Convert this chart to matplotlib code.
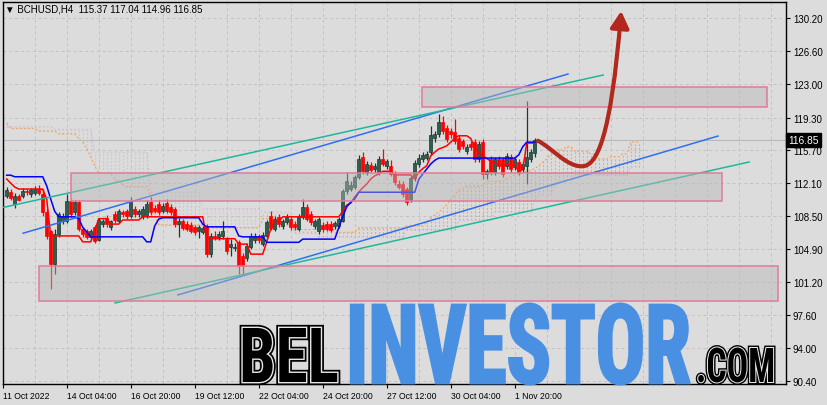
import os
import numpy as np
import matplotlib
matplotlib.use('Agg')
import matplotlib.pyplot as plt
import matplotlib.text as mtext
from matplotlib import font_manager as fm
from matplotlib.font_manager import FontProperties
from matplotlib.textpath import TextPath
from matplotlib.patches import Rectangle, FancyArrowPatch
from matplotlib.path import Path
from matplotlib.transforms import Affine2D
from matplotlib import patheffects

plt.rcParams['font.family'] = ['Liberation Sans', 'DejaVu Sans']

# BCHUSD H4 candles (bar 0 = 11 Oct 16:00)
opens = [110.65, 111.09, 109.80, 110.65, 110.65, 111.20, 110.90, 111.00, 111.50, 110.90,
         108.90, 106.80, 103.20, 106.50, 107.95, 107.95, 110.10, 108.90, 110.00, 107.05,
         106.80, 106.20, 107.30, 105.90, 107.60, 108.30, 107.30, 108.70, 107.95, 108.90,
         109.00, 108.50, 109.30, 108.70, 108.50, 108.50, 110.00, 109.40, 109.80, 109.00,
         109.90, 109.50, 109.25, 107.60, 107.95, 107.60, 107.50, 107.30, 106.85, 106.70,
         107.30, 104.30, 106.30, 106.20, 106.30, 105.95, 105.10, 105.00, 105.60, 104.10,
         103.90, 105.10, 105.80, 106.30, 105.40, 106.30, 108.50, 107.05, 108.40, 107.40,
         107.80, 108.15, 107.60, 107.05, 108.40, 109.50, 108.70, 107.40, 106.85, 107.50,
         107.60, 107.60, 107.40, 107.40, 107.95, 111.20, 111.50, 111.70, 112.80, 114.95,
         113.30, 114.10, 113.60, 113.30, 114.75, 114.00, 114.00, 113.10, 112.00, 112.00,
         111.45, 110.30, 112.70, 114.20, 114.70, 114.90, 115.50, 117.10, 117.50, 118.80,
         118.20, 117.80, 117.70, 117.10, 116.70, 115.60, 116.40, 116.60, 114.75, 116.60,
         113.10, 114.75, 113.30, 114.75, 114.75, 114.00, 114.95, 113.85, 114.40, 113.65,
         114.00, 114.75, 115.37]
highs = [111.64, 111.40, 111.00, 110.90, 111.60, 111.50, 111.60, 111.80, 111.90, 111.50,
         109.30, 107.00, 107.05, 108.90, 108.80, 110.90, 110.40, 110.30, 110.20, 107.30,
         107.10, 107.10, 107.50, 108.30, 108.20, 108.60, 108.10, 109.00, 109.30, 109.20,
         109.30, 110.60, 109.60, 109.30, 109.60, 110.20, 110.60, 109.70, 110.30, 109.90,
         110.40, 109.80, 109.50, 108.30, 108.20, 107.90, 107.80, 107.50, 107.50, 107.40,
         107.60, 106.60, 106.80, 106.80, 107.95, 106.20, 105.95, 105.50, 105.80, 104.40,
         105.50, 106.60, 106.60, 106.50, 106.70, 108.00, 109.00, 108.50, 108.70, 108.20,
         108.70, 108.40, 107.90, 108.70, 110.35, 109.80, 109.00, 108.20, 108.40, 107.80,
         107.90, 107.90, 107.90, 108.40, 111.40, 113.30, 112.30, 113.00, 115.20, 115.50,
         114.50, 114.40, 114.30, 115.10, 115.85, 114.80, 114.60, 113.40, 112.40, 112.30,
         111.70, 112.90, 114.60, 115.30, 115.50, 115.60, 118.40, 117.80, 119.70, 119.50,
         118.50, 118.10, 119.15, 117.40, 117.00, 116.40, 116.70, 116.90, 116.70, 116.90,
         113.70, 115.10, 115.00, 115.10, 115.00, 115.40, 115.30, 115.00, 114.70, 114.50,
         121.10, 115.80, 117.04]
lows = [110.43, 110.20, 109.40, 110.10, 110.50, 110.80, 110.60, 110.80, 110.80, 108.50,
        106.00, 100.45, 102.10, 106.20, 107.60, 107.70, 108.40, 108.60, 106.80, 106.20,
        106.00, 105.90, 105.50, 105.70, 107.30, 107.30, 107.00, 107.70, 107.70, 108.40,
        108.20, 108.30, 108.40, 108.40, 108.20, 108.30, 108.60, 108.80, 108.60, 108.80,
        108.80, 108.60, 107.30, 106.20, 106.90, 106.80, 106.60, 106.40, 106.10, 106.50,
        104.00, 104.00, 105.80, 105.90, 106.00, 104.30, 104.10, 104.60, 102.10, 102.00,
        103.60, 104.90, 105.50, 105.50, 105.20, 106.00, 106.90, 106.80, 107.30, 107.10,
        107.60, 107.00, 107.00, 106.80, 108.20, 107.90, 107.50, 107.10, 106.50, 106.70,
        106.80, 106.70, 107.10, 107.20, 107.80, 110.90, 111.20, 111.40, 112.50, 113.10,
        113.00, 113.30, 113.30, 113.00, 114.00, 113.70, 112.90, 111.90, 111.40, 110.60,
        109.70, 110.00, 112.30, 113.90, 114.40, 114.60, 115.20, 116.60, 117.20, 117.50,
        116.60, 117.10, 116.40, 115.50, 115.90, 115.30, 115.70, 114.40, 114.40, 112.55,
        112.55, 113.00, 113.00, 113.70, 112.80, 113.70, 113.30, 113.50, 113.00, 113.30,
        112.00, 114.40, 114.96]
closes = [111.38, 110.43, 110.65, 110.30, 111.27, 111.10, 111.30, 111.50, 111.00, 108.90,
          106.30, 103.20, 106.50, 108.70, 108.50, 110.10, 108.70, 110.00, 107.05, 106.50,
          106.20, 106.80, 105.75, 108.00, 107.90, 107.60, 107.90, 108.00, 109.00, 108.70,
          108.50, 110.00, 108.70, 109.00, 109.30, 109.80, 108.90, 109.00, 108.90, 109.60,
          109.00, 108.90, 107.60, 107.95, 107.15, 107.05, 106.85, 106.70, 107.30, 107.15,
          104.30, 106.30, 106.10, 106.50, 106.85, 104.60, 105.40, 105.00, 103.00, 103.00,
          105.20, 106.30, 106.30, 105.80, 106.40, 107.80, 107.20, 108.15, 107.60, 107.95,
          108.40, 107.30, 107.30, 108.50, 109.50, 108.15, 107.80, 107.95, 108.15, 107.05,
          107.05, 107.00, 107.70, 108.15, 111.20, 112.30, 111.90, 112.80, 114.75, 113.40,
          114.20, 113.55, 114.00, 114.75, 114.20, 114.50, 113.10, 112.20, 111.70, 110.90,
          110.00, 112.70, 114.30, 114.90, 115.20, 115.30, 117.40, 117.50, 118.80, 117.80,
          116.95, 117.50, 116.70, 115.85, 116.20, 116.10, 116.05, 114.75, 116.40, 113.10,
          113.40, 113.30, 114.75, 114.00, 113.10, 115.10, 113.65, 114.75, 113.30, 114.20,
          114.95, 115.50, 116.85]

# Ichimoku lines
tenkan = [112.55, 112.10, 111.67, 111.45, 111.45, 111.45, 111.45, 111.45, 111.45, 111.45,
          110.35, 106.30, 106.30, 106.30, 106.30, 106.30, 106.30, 106.30, 106.30, 105.65,
          105.65, 105.65, 106.85, 108.20, 108.20, 108.20, 107.60, 107.60, 107.60, 108.05,
          108.05, 108.05, 108.05, 108.05, 108.40, 108.40, 108.40, 108.40, 108.40, 108.40,
          108.40, 108.40, 108.40, 108.40, 108.40, 108.40, 108.40, 108.40, 108.40, 108.40,
          106.00, 106.00, 106.00, 106.00, 106.00, 106.00, 106.00, 106.00, 105.40, 105.40,
          105.40, 104.30, 104.30, 104.30, 104.30, 105.65, 107.10, 107.90, 107.90, 108.40,
          108.40, 108.40, 108.40, 108.40, 108.40, 108.40, 108.40, 108.40, 108.40, 108.40,
          108.40, 108.40, 108.40, 108.40, 109.00, 109.70, 109.90, 110.60, 111.10, 111.60,
          112.00, 112.55, 112.90, 113.10, 113.40, 113.40, 113.40, 113.00, 113.00, 113.00,
          113.00, 113.00, 112.55, 113.30, 113.70, 114.00, 115.10, 115.50, 115.85, 116.00,
          116.20, 116.60, 117.05, 117.30, 117.30, 117.30, 117.00, 116.00, 115.50, 115.10,
          114.80, 114.50, 114.30, 114.10, 114.10, 114.10, 114.10, 114.10, 113.40, 113.60,
          116.50, 116.50, 116.50]
kijun = [112.97, 112.97, 112.80, 112.80, 112.80, 112.80, 112.80, 112.80, 112.80, 112.80,
         111.80, 110.35, 109.00, 108.40, 108.40, 108.40, 108.40, 108.40, 108.20, 107.25,
         106.75, 106.20, 106.20, 106.20, 106.20, 106.20, 106.20, 106.20, 106.20, 106.20,
         106.20, 106.20, 106.20, 106.20, 106.20, 105.65, 105.65, 107.40, 108.15, 108.30,
         108.30, 108.30, 108.30, 108.30, 108.30, 108.30, 108.30, 108.30, 108.30, 107.60,
         107.30, 107.30, 107.30, 107.30, 107.30, 107.30, 107.30, 107.30, 106.30, 106.20,
         106.20, 106.20, 106.20, 106.20, 106.20, 105.60, 105.60, 105.60, 105.60, 105.60,
         105.60, 105.60, 105.60, 105.60, 105.95, 105.95, 105.95, 105.95, 105.95, 105.95,
         105.95, 105.95, 105.95, 107.20, 108.40, 109.50, 110.00, 110.35, 111.10, 111.10,
         111.10, 111.10, 111.10, 111.10, 111.10, 111.10, 111.10, 111.10, 111.10, 111.10,
         111.10, 111.10, 111.10, 112.50, 113.10, 113.65, 114.20, 114.60, 114.85, 114.85,
         114.85, 114.85, 114.85, 114.85, 114.85, 114.85, 114.85, 114.85, 114.85, 114.85,
         114.85, 114.85, 114.85, 114.85, 114.85, 114.85, 114.85, 114.85, 115.20, 116.10,
         116.60, 116.60, 116.60]
span_a = [118.70, 118.10, 118.10, 118.10, 118.10, 118.10, 118.10, 118.10, 117.80, 117.80,
          117.80, 117.80, 117.80, 117.50, 117.50, 117.50, 117.50, 117.50, 117.00, 116.60,
          115.90, 115.00, 114.00, 113.20, 113.20, 113.20, 113.20, 112.40, 112.40, 111.90,
          111.70, 111.70, 111.70, 111.70, 111.70, 111.70, 110.60, 108.50, 107.50, 107.50,
          107.50, 107.50, 107.50, 107.50, 107.50, 107.50, 107.50, 107.50, 107.50, 107.50,
          107.20, 107.20, 107.20, 107.20, 107.20, 107.20, 107.20, 107.20, 107.20, 107.20,
          107.20, 107.20, 107.20, 107.20, 108.20, 108.20, 108.20, 108.20, 108.20, 107.50,
          107.50, 107.50, 107.00, 107.00, 107.00, 107.00, 107.00, 107.00, 107.00, 107.00,
          107.00, 107.00, 107.00, 106.70, 106.70, 106.70, 106.70, 106.70, 107.20, 107.20,
          107.20, 107.20, 107.20, 107.20, 107.20, 107.20, 107.20, 107.20, 107.20, 107.20,
          107.40, 107.40, 107.40, 107.40, 107.40, 107.80, 108.30, 108.60, 108.90, 109.30,
          109.70, 110.30, 110.80, 111.30, 111.45, 111.80, 111.80, 111.80, 111.80, 111.80,
          112.30, 112.30, 112.30, 112.30, 112.30, 112.60, 112.80, 113.00, 113.10, 113.20,
          113.40, 113.50, 113.70, 114.00, 114.40, 114.75, 115.30, 115.75, 115.75, 115.75,
          116.10, 116.10, 115.60, 115.60, 115.60, 115.60, 115.30, 115.30, 114.75, 114.75,
          114.75, 115.00, 115.00, 115.00, 115.30, 115.30, 116.60, 116.60, 116.60]
span_b = [118.30, 118.30, 118.30, 118.30, 118.30, 118.30, 118.30, 118.30, 118.30, 118.30,
          118.30, 118.30, 118.00, 118.00, 118.00, 118.00, 118.00, 118.00, 118.00, 118.00,
          118.00, 118.00, 115.50, 115.50, 115.50, 115.50, 115.50, 115.50, 115.50, 115.50,
          115.50, 115.50, 115.50, 115.50, 115.50, 115.50, 111.10, 111.10, 111.10, 111.10,
          111.10, 111.10, 111.10, 111.10, 111.10, 111.10, 111.10, 111.10, 111.10, 109.30,
          109.30, 109.30, 109.30, 109.30, 109.30, 109.30, 109.30, 109.30, 109.30, 109.30,
          109.30, 109.30, 109.30, 109.30, 108.90, 108.90, 108.90, 108.90, 108.90, 108.90,
          108.90, 108.90, 106.60, 106.60, 106.60, 106.60, 106.60, 106.60, 106.20, 106.20,
          106.20, 106.20, 106.20, 106.20, 106.20, 106.20, 106.20, 106.20, 106.20, 106.20,
          106.20, 106.20, 106.20, 106.20, 106.20, 106.20, 106.20, 106.20, 106.20, 106.20,
          107.00, 107.00, 107.00, 107.00, 107.00, 107.00, 107.00, 107.00, 107.00, 107.00,
          107.00, 107.00, 107.00, 108.00, 108.00, 108.00, 108.00, 108.00, 108.00, 108.00,
          108.00, 108.00, 108.90, 108.90, 108.90, 108.90, 108.90, 108.90, 108.90, 108.90,
          108.90, 108.90, 110.20, 110.85, 110.85, 110.85, 110.85, 111.65, 112.30, 112.45,
          112.45, 112.45, 113.00, 113.00, 113.00, 113.00, 113.00, 113.00, 113.00, 113.00,
          113.00, 113.00, 113.00, 113.00, 113.00, 113.00, 113.90, 113.90, 113.90]

# analyst drawings: (bar from, bar to), (price from, price to)
chan_upper_blue = ([4.1, 140.3], [106.60, 124.08])
chan_upper_green = ([-1.7, 149.1], [109.35, 123.97])
chan_lower_blue = ([42.8, 177.8], [99.82, 117.27])
chan_lower_green = ([27.1, 185.6], [98.94, 114.42])
# zones: bar from, bar to, price low, price high
zones = [(103.8, 190.0, 120.43, 122.62),
         (16.1, 178.8, 110.19, 113.21),
         (8.1, 192.8, 99.19, 102.97)]
# forecast arrow: start, low point, target (bar, price)
arrow_pts = [(132.8, 116.75), (136.5, 115.9), (140.0, 113.9), (143.8, 113.95),
             (147.5, 113.95), (151.0, 117.0), (153.6, 131.0)]

time_labels = ['11 Oct 2022', '14 Oct 04:00', '16 Oct 20:00', '19 Oct 12:00', '22 Oct 04:00',
               '24 Oct 20:00', '27 Oct 12:00', '30 Oct 04:00', '1 Nov 20:00']
time_pos = [-0.9, 15, 31, 47, 63, 79, 95, 111, 127]
price_ticks = [130.20, 126.60, 123.00, 119.30, 115.70, 112.10, 108.50, 104.90, 101.20, 97.60, 94.00, 90.40]

BG = '#dcdcdc'
W, H = 828, 406


class Squeeze(patheffects.AbstractPathEffect):
    # draws text glyphs narrower (condensed look) with optional outline strokes
    def __init__(self, sx, strokes=()):
        super().__init__()
        self.sx = sx
        self.strokes = strokes

    def draw_path(self, renderer, gc, tpath, affine, rgbFace=None):
        aff = Affine2D().scale(self.sx, 1.0) + affine
        for lw, col in self.strokes:
            gc0 = renderer.new_gc()
            gc0.copy_properties(gc)
            gc0.set_linewidth(lw)
            gc0.set_foreground(col)
            gc0.set_joinstyle('miter')
            renderer.draw_path(gc0, tpath, aff, None)
            gc0.restore()
        renderer.draw_path(gc, tpath, aff, rgbFace)


def condensed_font():
    # look for a condensed heavy face among the installed fonts
    wanted = ['notosans-extracondensedblack', 'notosans-extracondensedextrabold',
              'notosans-extracondensedbold', 'notosans-condensedblack',
              'notosans-condensedbold', 'robotocondensed-bold', 'roboto_condensed-bold',
              'liberationsansnarrow-bold', 'dejavusanscondensed-bold']
    files = {os.path.basename(f.fname).lower(): f.fname for f in fm.fontManager.ttflist}
    for w in wanted:
        for name, path in files.items():
            if name.startswith(w) and 'italic' not in name:
                return FontProperties(fname=path)
    return FontProperties(family='DejaVu Sans', weight='bold')


fig = plt.figure(figsize=(W / 100, H / 100), dpi=100, facecolor=BG)
ax = fig.add_axes([3 / W, 1 - 385 / H, 783 / W, 382 / H], facecolor=BG)
ax.set_xlim(-0.925, 194.8)
ax.set_ylim(90.04, 131.99)

# grid
for p in price_ticks:
    ax.axhline(p, color='#c2c2c2', lw=0.7, ls=(0, (3, 3)), zorder=0)
for gx in range(7, 195, 8):
    ax.axvline(gx, color='#c2c2c2', lw=0.7, ls=(0, (3, 3)), zorder=0)

# cloud
xa = np.arange(len(span_a))
a = np.array(span_a)
b = np.array(span_b)
upk = a >= b
ax.vlines(xa[upk], b[upk], a[upk], colors='#f4a460', lw=0.8, ls=(0, (1.6, 1.6)), zorder=1)
ax.vlines(xa[~upk], a[~upk], b[~upk], colors='#d8bfd8', lw=0.8, ls=(0, (1.6, 1.6)), zorder=1)
ax.plot(xa, a, color='#f4a460', lw=0.9, ls=(0, (1.6, 1.6)), zorder=1.2)
ax.plot(xa, b, color='#d8bfd8', lw=0.9, ls=(0, (1.6, 1.6)), zorder=1.2)

# candles
o, h, l, c = (np.array(v) for v in (opens, highs, lows, closes))
x = np.arange(len(o))
up = c >= o
BULL, BULL_EDGE, BEAR = '#2f5e4d', '#1c382f', '#ff0000'
ax.vlines(x[up], l[up], h[up], color=BULL_EDGE, lw=0.9, zorder=2)
ax.vlines(x[~up], l[~up], h[~up], color=BEAR, lw=0.9, zorder=2)
body_lo = np.minimum(o, c)
body_h = np.maximum(np.abs(c - o), 0.06)
ax.bar(x[up], body_h[up], bottom=body_lo[up], width=0.72, color=BULL,
       edgecolor=BULL_EDGE, lw=0.5, zorder=2.1)
ax.bar(x[~up], body_h[~up], bottom=body_lo[~up], width=0.72, color=BEAR,
       edgecolor=BEAR, lw=0.5, zorder=2.1)

# tenkan / kijun
ax.plot(x, tenkan, color='#ff0000', lw=1.1, zorder=3)
ax.plot(x, kijun, color='#0000ff', lw=1.1, zorder=3.1)

# bid line
ax.axhline(closes[-1], color='#b9b9b9', lw=0.8, zorder=1.5)

# channels
for (cx, cy), col in [(chan_upper_blue, '#2f6ff0'), (chan_upper_green, '#1fb89a'),
                      (chan_lower_blue, '#2f6ff0'), (chan_lower_green, '#1fb89a')]:
    ax.plot(cx, cy, color=col, lw=1.1, zorder=4)

# zones
for x0, x1, p0, p1 in zones:
    ax.add_patch(Rectangle((x0, p0), x1 - x0, p1 - p0, facecolor=(0.72, 0.72, 0.72, 0.45),
                           edgecolor='#e07b97', lw=1.1, zorder=5))

# forecast arrow
codes = [Path.MOVETO] + [Path.CURVE4] * 6
arrow = FancyArrowPatch(path=Path(arrow_pts, codes),
                        arrowstyle='-|>,head_length=0.5,head_width=0.28',
                        mutation_scale=20, color='#b2281d', lw=3.0, zorder=7)
ax.add_patch(arrow)

# axes cosmetics
for s in ax.spines.values():
    s.set_color('black')
    s.set_linewidth(1.0)
ax.yaxis.tick_right()
ax.set_yticks(price_ticks, labels=[f'{p:.2f}' for p in price_ticks])
ax.set_xticks(time_pos, labels=time_labels)
for t in ax.get_xticklabels():
    t.set_ha('left')
ax.tick_params(axis='both', length=3, width=0.8, colors='black', pad=2)
ax.tick_params(axis='x', labelsize=6.2)
ax.tick_params(axis='y', labelsize=7)

# last price tag
ax.text(1.0 + 2 / 783, closes[-1], f'{closes[-1]:.2f}', transform=ax.get_yaxis_transform(),
        ha='left', va='center', color='white', fontsize=7.4, clip_on=False, zorder=10,
        bbox=dict(boxstyle='square,pad=0.2', fc='black', ec='black'))

# header
fig.text(5 / W, 1 - 10 / H, '\u25bc BCHUSD,H4  115.37 117.04 114.96 116.85',
         fontsize=7, color='black', ha='left', va='center')

# watermark
renderer = fig.canvas.get_renderer()
wm_font = condensed_font()
cap_ratio = TextPath((0, 0), 'E', size=1, prop=wm_font).get_extents().height


def mark(s, left, right, base, cap, color, strokes):
    fp = wm_font.copy()
    fp.set_size(cap / cap_ratio * 72 / 100)
    t = fig.text(left / W, 1 - base / H, s, fontproperties=fp, color=color,
                 ha='left', va='baseline', zorder=9)
    w0 = t.get_window_extent(renderer).width
    t.set_path_effects([Squeeze((right - left) / w0, strokes)])
    return t


mark('BEL', 239, 339, 383, 54, 'black', [(4.5, 'black'), (2.0, '#e8e8e8')])
mark('INVESTOR', 346, 691, 384, 78, '#4a90e2', [(2.0, '#4a90e2')])
mark('.COM', 696, 775, 383, 34, 'black', [(3.5, 'black'), (1.5, '#e8e8e8')])

fig.savefig('out.png', dpi=100, facecolor=BG)
